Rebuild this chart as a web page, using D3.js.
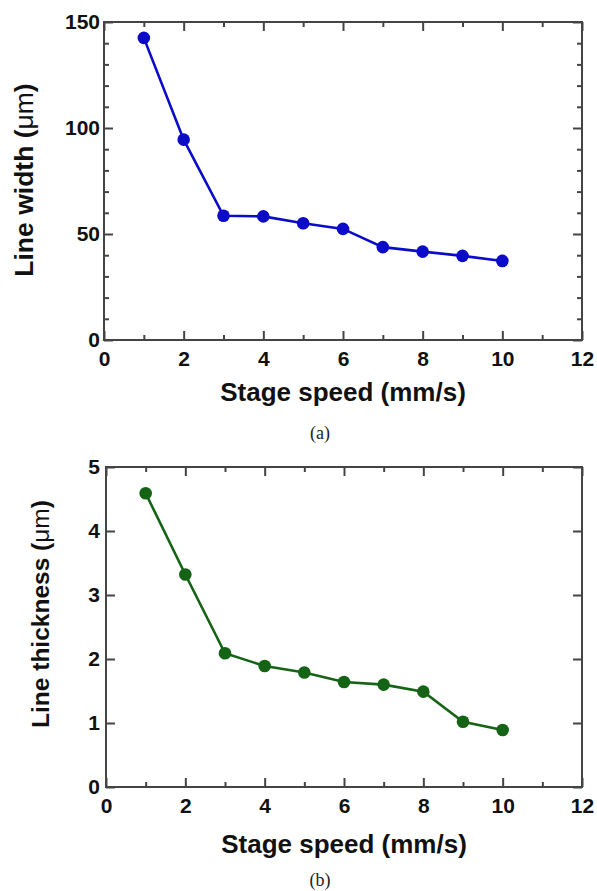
<!DOCTYPE html>
<html>
<head>
<meta charset="utf-8">
<script src="https://cdn.jsdelivr.net/npm/d3@7"></script>
<style>
  body { margin: 0; background: #fff; }
  svg { display: block; }
  .tick text { font-family: "Liberation Sans", Arial, sans-serif; font-weight: bold; font-size: 21px; fill: #111; }
</style>
</head>
<body>
<div id="chart"></div>
<script>
// shared x values (stage speed, mm/s)
const speed = [1, 2, 3, 4, 5, 6, 7, 8, 9, 10];
// (a) line width, um
const lineWidth = [142.5, 94.5, 58.6, 58.3, 55.1, 52.4, 43.8, 41.7, 39.7, 37.3];
// (b) line thickness, um
const lineThickness = [4.59, 3.32, 2.09, 1.89, 1.79, 1.64, 1.60, 1.49, 1.02, 0.89];

const xTicks = [0, 2, 4, 6, 8, 10, 12];
const xMinorTicks = [1, 3, 5, 7, 9, 11];
const yTicksA = [0, 50, 100, 150];
const yMinorA = [10, 20, 30, 40, 60, 70, 80, 90, 110, 120, 130, 140];
const yTicksB = [0, 1, 2, 3, 4, 5];

const W = 597, H = 891;
const svg = d3.select('#chart').append('svg')
    .attr('width', W)
    .attr('height', H);

const majorLen = 9;
const minorLen = 5;

function panel(opts) {
  const x = d3.scaleLinear().domain([0, 12]).range([opts.left, opts.right]);
  const y = d3.scaleLinear().domain(opts.yDomain).range([opts.bottom, opts.top]);
  const g = svg.append('g');

  // tick marks, all pointing inward
  const addAxis = function(axis, transform, labels) {
    const a = g.append('g').attr('transform', transform).call(axis);
    a.select('.domain').remove();
    a.selectAll('.tick line').attr('stroke', '#444').attr('stroke-width', 2);
    if (!labels) a.selectAll('.tick text').remove();
    return a;
  };

  // bottom
  const xb = addAxis(d3.axisBottom(x).tickValues(xTicks).tickFormat(d3.format('d'))
      .tickSizeInner(-majorLen).tickPadding(11), 'translate(0,' + opts.bottom + ')', true);
  xb.selectAll('.tick text').attr('dy', '0.71em');
  addAxis(d3.axisBottom(x).tickValues(xMinorTicks).tickSizeInner(-minorLen), 'translate(0,' + opts.bottom + ')', false);
  // top
  addAxis(d3.axisTop(x).tickValues(xTicks).tickSizeInner(-majorLen), 'translate(0,' + opts.top + ')', false);
  addAxis(d3.axisTop(x).tickValues(xMinorTicks).tickSizeInner(-minorLen), 'translate(0,' + opts.top + ')', false);
  // left
  addAxis(d3.axisLeft(y).tickValues(opts.yTicks).tickFormat(d3.format('d'))
      .tickSizeInner(-majorLen).tickPadding(opts.yPad), 'translate(' + opts.left + ',0)', true);
  if (opts.yMinor) {
    addAxis(d3.axisLeft(y).tickValues(opts.yMinor).tickSizeInner(-minorLen), 'translate(' + opts.left + ',0)', false);
  }
  // right
  addAxis(d3.axisRight(y).tickValues(opts.yTicks).tickSizeInner(-majorLen), 'translate(' + opts.right + ',0)', false);
  if (opts.yMinor) {
    addAxis(d3.axisRight(y).tickValues(opts.yMinor).tickSizeInner(-minorLen), 'translate(' + opts.right + ',0)', false);
  }

  // frame
  g.append('rect')
      .attr('x', x(0)).attr('y', y(opts.yDomain[1]))
      .attr('width', x(12) - x(0)).attr('height', y(opts.yDomain[0]) - y(opts.yDomain[1]))
      .attr('fill', 'none').attr('stroke', '#444').attr('stroke-width', 2);

  // data line + markers
  const pts = speed.map(function(s, i) { return [s, opts.values[i]]; });
  const line = d3.line()
      .x(function(d) { return x(d[0]); })
      .y(function(d) { return y(d[1]); });
  g.append('path')
      .datum(pts)
      .attr('d', line)
      .attr('fill', 'none')
      .attr('stroke', opts.color)
      .attr('stroke-width', 2.6);
  g.selectAll('circle.pt')
      .data(pts)
      .enter()
      .append('circle')
      .attr('class', 'pt')
      .attr('cx', function(d) { return x(d[0]); })
      .attr('cy', function(d) { return y(d[1]); })
      .attr('r', 6.3)
      .attr('fill', opts.color);

  // axis titles
  g.append('text')
      .attr('x', (opts.left + opts.right) / 2)
      .attr('y', opts.xTitleY)
      .attr('text-anchor', 'middle')
      .style('font-family', '"Liberation Sans", Arial, sans-serif')
      .style('font-weight', 'bold')
      .style('font-size', '26px')
      .attr('fill', '#111')
      .text('Stage speed (mm/s)');

  const yt = g.append('text')
      .attr('transform', 'translate(' + opts.yTitleX + ',' + opts.yTitleY + ') rotate(-90)')
      .attr('text-anchor', 'middle')
      .style('font-family', '"Liberation Sans", Arial, sans-serif')
      .style('font-weight', 'bold')
      .style('font-size', opts.yTitleSize + 'px')
      .attr('fill', '#111');
  yt.append('tspan').text(opts.yTitle + ' (');
  yt.append('tspan').style('font-weight', 'normal').text('\u03bcm');
  yt.append('tspan').text(')');

  // panel caption
  g.append('text')
      .attr('x', 320)
      .attr('y', opts.capY)
      .attr('text-anchor', 'middle')
      .style('font-family', '"Liberation Serif", "Times New Roman", serif')
      .style('font-size', '18px')
      .attr('fill', '#222')
      .text(opts.caption);
}

panel({
  left: 104, right: 582, top: 22, bottom: 340,
  yDomain: [0, 150], yTicks: yTicksA, yMinor: yMinorA, yPad: 4,
  values: lineWidth, color: '#0b0bc8',
  yTitle: 'Line width', yTitleX: 33, yTitleY: 180, yTitleSize: 26.5,
  xTitleY: 401, capY: 439, caption: '(a)'
});

panel({
  left: 106, right: 582, top: 467, bottom: 787,
  yDomain: [0, 5], yTicks: yTicksB, yMinor: null, yPad: 6,
  values: lineThickness, color: '#156315',
  yTitle: 'Line thickness', yTitleX: 49, yTitleY: 614, yTitleSize: 24.5,
  xTitleY: 853, capY: 886, caption: '(b)'
});
</script>
</body>
</html>
